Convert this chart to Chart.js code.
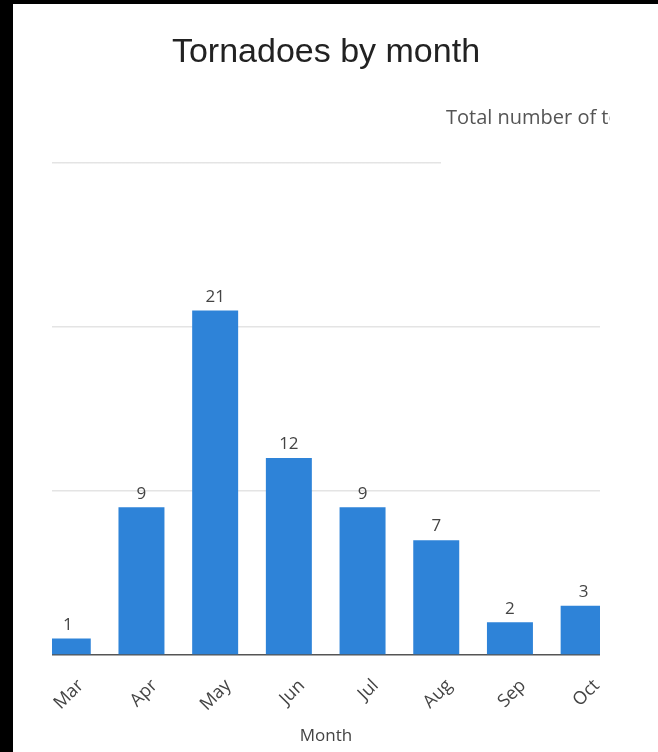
<!DOCTYPE html>
<html>
<head>
<meta charset="utf-8">
<script src="https://cdn.jsdelivr.net/npm/chart.js@4"></script>
<style>
  html, body { margin: 0; padding: 0; background: #000; }
  #frame { position: absolute; left: 13px; top: 4px; width: 645px; height: 748px; background: #fff; }
  #box { width: 597px; height: 748px; }
</style>
</head>
<body>
<div id="frame"><div id="box"><canvas id="chart"></canvas></div></div>
<script>
var months = ["Mar", "Apr", "May", "Jun", "Jul", "Aug", "Sep", "Oct"];
var tornadoes = [1, 9, 21, 12, 9, 7, 2, 3];
var yTicks = [0, 10, 20, 30];
var seriesName = "Total number of tornadoes";

var barColor = "#2e83d8";

// number above each bar
var valueLabels = {
    id: "valueLabels",
    afterDatasetsDraw: function (chart) {
        var ctx = chart.ctx;
        var meta = chart.getDatasetMeta(0);
        ctx.save();
        ctx.font = "17px 'Open Sans'";
        ctx.fillStyle = "#444444";
        ctx.textAlign = "center";
        ctx.textBaseline = "bottom";
        meta.data.forEach(function (bar, i) {
            ctx.fillText(String(tornadoes[i]), bar.x, bar.y - 5);
        });
        ctx.restore();
    }
};

// the cut-off legend text at the top right
var seriesLabel = {
    id: "seriesLabel",
    afterDraw: function (chart) {
        var ctx = chart.ctx;
        ctx.save();
        ctx.font = "20px 'Open Sans'";
        ctx.fillStyle = "#555555";
        ctx.textAlign = "left";
        ctx.textBaseline = "alphabetic";
        ctx.fillText(seriesName, 433, 120);
        ctx.restore();
    }
};

function gridColor(context) {
    var v = context.tick.value;
    if (v === 0) return "#555555";
    if (v === yTicks[yTicks.length - 1]) {
        // top gridline only runs part of the way across
        var area = context.chart.chartArea;
        if (!area) return "#e4e4e4";
        var g = context.chart.ctx.createLinearGradient(area.left, 0, area.right, 0);
        g.addColorStop(0, "#e4e4e4");
        g.addColorStop(0.71, "#e4e4e4");
        g.addColorStop(0.71, "rgba(255,255,255,0)");
        g.addColorStop(1, "rgba(255,255,255,0)");
        return g;
    }
    return "#e4e4e4";
}

var points = months.map(function (m, i) {
    return { x: i, y: tornadoes[i] };
});

new Chart(document.getElementById("chart"), {
    type: "bar",
    data: {
        datasets: [
            {
                label: seriesName,
                data: points,
                backgroundColor: barColor,
                borderWidth: 0,
                barPercentage: 0.624,
                categoryPercentage: 1,
                clip: 0
            }
        ]
    },
    plugins: [valueLabels, seriesLabel],
    options: {
        responsive: true,
        maintainAspectRatio: false,
        animation: false,
        layout: {
            padding: { left: 39, right: 10, top: 0, bottom: 6 }
        },
        scales: {
            x: {
                type: "linear",
                min: -0.214,
                max: 7.222,
                offset: false,
                grid: { display: false, drawTicks: false },
                border: { display: false },
                afterFit: function (scale) {
                    // rotated labels should not squeeze the plot sideways
                    scale.paddingLeft = 0;
                    scale.paddingRight = 0;
                    scale.height = 91;
                },
                ticks: {
                    stepSize: 1,
                    includeBounds: false,
                    autoSkip: false,
                    minRotation: 45,
                    maxRotation: 45,
                    padding: 22,
                    labelOffset: 13,
                    color: "#444444",
                    font: { family: "'Open Sans'", size: 18, lineHeight: 0.9 },
                    callback: function (value) {
                        return months[value] !== undefined ? months[value] : "";
                    }
                },
                title: {
                    display: true,
                    text: "Month",
                    color: "#444444",
                    font: { family: "'Open Sans'", size: 17 },
                    padding: { top: 0, bottom: 0 }
                }
            },
            y: {
                min: yTicks[0],
                max: yTicks[yTicks.length - 1],
                border: { display: false },
                grid: {
                    drawTicks: false,
                    lineWidth: 1.5,
                    color: gridColor
                },
                ticks: {
                    display: false,
                    stepSize: 10
                }
            }
        },
        plugins: {
            legend: { display: false },
            tooltip: { enabled: false },
            title: {
                display: true,
                text: "Tornadoes by month",
                color: "#222222",
                font: { family: "'Liberation Sans', Arial, sans-serif", size: 34, weight: "normal" },
                padding: { top: 28, bottom: 90 }
            }
        }
    }
});
</script>
</body>
</html>
